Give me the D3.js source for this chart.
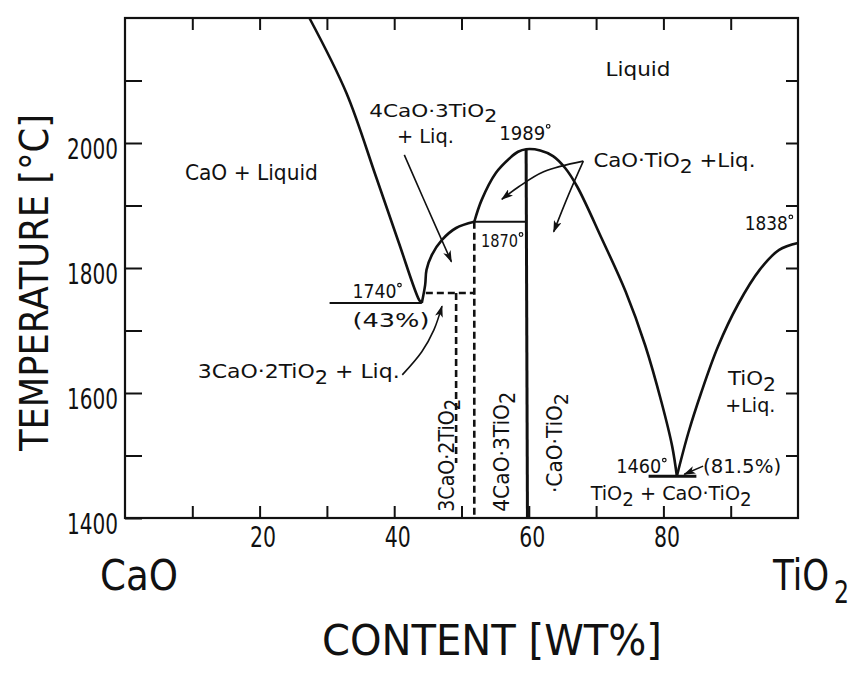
<!DOCTYPE html>
<html><head><meta charset="utf-8">
<script src="https://cdn.jsdelivr.net/npm/d3@7/dist/d3.min.js"></script>
<style>
html,body{margin:0;padding:0;background:#fff;}
svg text{font-family:"Liberation Sans Narrow","DejaVu Sans Condensed","DejaVu Sans",sans-serif;fill:#111;}
</style></head>
<body><svg id="chart" width="856" height="675"></svg>
<script>
// ---------- data: [CONTENT wt% TiO2, TEMPERATURE °C] ----------
const caoLiquidus   = [[27.4,2200],[32.9,2080],[37.3,1946],[40.7,1840],[43.7,1749],[44.1,1744]];
const c4t3Liquidus  = [[44.1,1744],[44.6,1773],[44.8,1797],[45.6,1821],[47.1,1845],[49.2,1864],[51.9,1874]];
const ctLiquidus    = [[51.9,1874],[53.0,1909],[55.1,1952],[57.2,1976],[58.4,1986],[59.6,1990],[61.7,1988],[63.6,1979],[65.4,1960],[67.2,1930],[70.8,1848],[74.4,1762],[77.3,1676],[79.7,1586],[81.3,1515],[82.0,1467]];
const tio2Liquidus  = [[82.0,1467],[83.7,1536],[85.6,1600],[88.1,1674],[91.1,1742],[94.3,1797],[97.2,1829],[100,1840]];
const eutectic1     = [[30.4,1744],[44.1,1744]];
const peritectic    = [[51.9,1874],[59.6,1874]];
const eutectic2     = [[77.8,1467],[84.9,1467]];
const ctLine        = [[59.6,1990],[59.8,1400]];
const c4t3Line      = [[51.9,1874],[51.9,1400]];
const c3t2Line      = [[49.2,1760],[49.2,1488]];
const c3t2Peri      = [[44.7,1760],[51.9,1760]];
const tempTicks     = [1400,1600,1800,2000];
const tempMinor     = [1500,1700,1900,2100];
const contentTicks  = [20,40,60,80];
const contentMinor  = [10,30,50,70,90];
const arrows = [
  [[41.5,1981],[44.3,1912],[48.5,1810]],
  [[68.1,1971],[62.2,1954],[58.5,1930],[56.0,1910]],
  [[68.1,1971],[65.9,1917],[63.7,1858]],
  [[41.2,1629],[44.1,1666],[45.9,1701],[47.1,1739]],
  [[85.9,1483],[83.1,1470]]
];

// ---------- layout ----------
const FONT = '"Liberation Sans Narrow","DejaVu Sans Condensed","DejaVu Sans",sans-serif';
const svg = d3.select("#chart");
const x = d3.scaleLinear().domain([0,100]).range([125,798]);
const y = d3.scaleLinear().domain([1400,2200]).range([518,18]);
const line = d3.line().x(d=>x(d[0])).y(d=>y(d[1]));
const curve = d3.line().x(d=>x(d[0])).y(d=>y(d[1])).curve(d3.curveCatmullRom.alpha(0.5));

svg.append("defs").append("marker").attr("id","ah")
  .attr("viewBox","0 0 12 8").attr("refX",11).attr("refY",4)
  .attr("markerWidth",12).attr("markerHeight",8).attr("markerUnits","userSpaceOnUse")
  .attr("orient","auto").append("path").attr("d","M0,0L12,4L0,8L3,4z").attr("fill","#111");

// axes (ticks inward)
const allT = tempTicks.concat(tempMinor).sort();
const allC = contentTicks.concat(contentMinor).sort((a,b)=>a-b);
function styleAxis(g){ g.select(".domain").remove(); g.selectAll("line").attr("stroke","#111").attr("stroke-width",2); }
svg.append("g").attr("transform",`translate(${x(0)},0)`)
  .call(d3.axisLeft(y).tickValues(allT).tickSizeInner(-17).tickPadding(7)
        .tickFormat(d=>tempTicks.includes(d)?d:""))
  .call(styleAxis)
  .call(g=>g.selectAll("text").attr("font-size",28).attr("dy","0.55em").attr("fill","#111")
        .style("font-family",FONT)
        .each(function(d){ if(tempTicks.includes(d)) d3.select(this).attr("textLength",51).attr("lengthAdjust","spacingAndGlyphs"); }));
svg.append("g").attr("transform",`translate(${x(100)},0)`)
  .call(d3.axisRight(y).tickValues(tempMinor.concat([1600,1800,2000])).tickSizeInner(-12).tickFormat(""))
  .call(styleAxis);
svg.append("g").attr("transform",`translate(0,${y(2200)})`)
  .call(d3.axisTop(x).tickValues(allC).tickSizeInner(-12).tickFormat(""))
  .call(styleAxis);
svg.append("g").attr("transform",`translate(0,${y(1400)})`)
  .call(d3.axisBottom(x).tickValues(allC).tickSizeInner(-12).tickPadding(9)
        .tickFormat(d=>contentTicks.includes(d)?d:""))
  .call(styleAxis)
  .call(g=>g.selectAll("text").attr("font-size",28).attr("fill","#111")
        .style("font-family",FONT)
        .each(function(d){ if(contentTicks.includes(d)) d3.select(this).attr("x",3).attr("textLength",26).attr("lengthAdjust","spacingAndGlyphs"); }));

// frame
svg.append("rect").attr("x",x(0)).attr("y",y(2200)).attr("width",x(100)-x(0)).attr("height",y(1400)-y(2200))
  .attr("fill","none").attr("stroke","#111").attr("stroke-width",2.2);

// phase boundaries
[caoLiquidus,c4t3Liquidus,ctLiquidus,tio2Liquidus].forEach(d=>svg.append("path").attr("d",curve(d))
  .attr("fill","none").attr("stroke","#111").attr("stroke-width",2.6).attr("stroke-linejoin","round"));
[eutectic1,peritectic].forEach(d=>svg.append("path").attr("d",line(d)).attr("fill","none").attr("stroke","#111").attr("stroke-width",2));
svg.append("path").attr("d",line(eutectic2)).attr("fill","none").attr("stroke","#111").attr("stroke-width",3);
svg.append("path").attr("d",line(ctLine)).attr("fill","none").attr("stroke","#111").attr("stroke-width",3);
[c4t3Line,c3t2Line,c3t2Peri].forEach(d=>svg.append("path").attr("d",line(d)).attr("fill","none")
  .attr("stroke","#111").attr("stroke-width",2.6).attr("stroke-dasharray","7,4"));

// arrows
arrows.forEach(d=>svg.append("path").attr("d",curve(d)).attr("fill","none").attr("stroke","#111")
  .attr("stroke-width",1.6).attr("marker-end","url(#ah)"));

// labels
function lab(txt, px, py, size, len, opts={}){
  const t = svg.append("text").attr("x",x(px)).attr("y",y(py)).attr("font-size",size);
  if(opts.rot){ t.attr("transform",`rotate(-90,${x(px)},${y(py)})`); }
  txt.forEach(p=>{
    const s = t.append("tspan").text(p[0]);
    if(p[1]==="sub") s.attr("baseline-shift","-30%").attr("font-size",size*0.95);
  });
  if(len) t.attr("textLength",len).attr("lengthAdjust","spacingAndGlyphs");
  if(opts.deg){ // small raised degree mark
    svg.append("circle").attr("cx",x(px)+len+3).attr("cy",y(py)-size*0.68).attr("r",1.8)
      .attr("fill","none").attr("stroke","#111").attr("stroke-width",1.2);
  }
  return t;
}
lab([["CaO + Liquid"]], 8.9,1941, 22, 133);
lab([["Liquid"]], 71.4,2107, 20, 65);
lab([["4CaO·3TiO"],["2","sub"]], 36.3,2042, 18, 128);
lab([["+ Liq."]], 40.4,2000, 20, 57);
lab([["1989"]], 55.6,2005, 20, 46, {deg:true});
lab([["CaO·TiO"],["2","sub"],[" +Liq."]], 69.6,1962, 20, 162);
lab([["1870"]], 52.9,1834, 18, 37, {deg:true});
lab([["1838"]], 92.1,1861, 19, 43, {deg:true});
lab([["1740"]], 33.8,1752, 19, 44, {deg:true});
lab([["(43%)"]], 33.8,1706, 20, 77);
lab([["3CaO·2TiO"],["2","sub"],[" + Liq."]], 10.8,1624, 20, 202);
lab([["TiO"],["2","sub"]], 89.6,1613, 20, 48);
lab([["+Liq."]], 89.2,1570, 20, 50);
lab([["1460"]], 73.0,1472, 19, 45, {deg:true});
lab([["(81.5%)"]], 85.9,1472, 20, 78);
lab([["TiO"],["2","sub"],[" + CaO·TiO"],["2","sub"]], 69.2,1429, 20, 161);
lab([["3CaO·2TiO"],["2","sub"]], 48.9,1410, 22, 113, {rot:true});
lab([["4CaO·3TiO"],["2","sub"]], 57.1,1410, 22, 120, {rot:true});
lab([["·CaO·TiO"],["2","sub"]], 64.9,1440, 21, 100, {rot:true});

// axis titles & end members
svg.append("text").attr("x",100).attr("y",590).attr("font-size",42).attr("textLength",78).attr("lengthAdjust","spacingAndGlyphs").text("CaO");
svg.append("text").attr("x",773).attr("y",590).attr("font-size",42).attr("textLength",56).attr("lengthAdjust","spacingAndGlyphs").text("TiO");
svg.append("text").attr("x",834).attr("y",603).attr("font-size",32).attr("textLength",15).attr("lengthAdjust","spacingAndGlyphs").text("2");
svg.append("text").attr("x",322).attr("y",655).attr("font-size",42).attr("textLength",340).attr("lengthAdjust","spacingAndGlyphs").text("CONTENT  [WT%]");
svg.append("text").attr("transform","translate(48,451) rotate(-90)").attr("font-size",39)
  .attr("textLength",337).attr("lengthAdjust","spacingAndGlyphs").text("TEMPERATURE  [°C]");
</script></body></html>
